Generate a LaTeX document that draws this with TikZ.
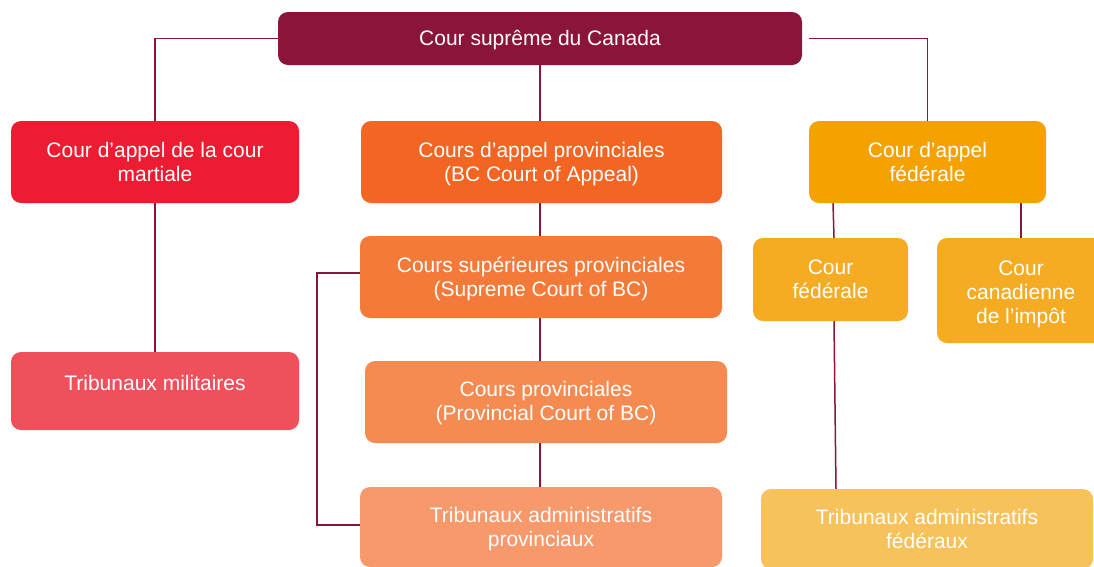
\documentclass[tikz,border=0pt]{standalone}
\usepackage{fontspec}
\setmainfont{Liberation Sans}
\usetikzlibrary{backgrounds}
\definecolor{cmaroon}{HTML}{8A1538}
\definecolor{cred}{HTML}{ED1C33}
\definecolor{cpink}{HTML}{F0505C}
\definecolor{corA}{HTML}{F26522}
\definecolor{corB}{HTML}{F47A3A}
\definecolor{corC}{HTML}{F68B52}
\definecolor{corD}{HTML}{F7996A}
\definecolor{cyA}{HTML}{F5A200}
\definecolor{cyB}{HTML}{F5AC22}
\definecolor{cyC}{HTML}{F8C25A}
\newcommand{\ctxt}[2][-3pt]{\raisebox{#1}[\height][\depth]{\begin{tabular}{@{}c@{}}#2\end{tabular}}}
\tikzset{
  court/.style={rectangle, rounded corners=10pt, inner sep=0pt,
    text=white, font=\fontsize{21}{24}\selectfont, draw=none},
  link/.style={draw=cmaroon, line width=1.5pt},
}
\begin{document}
\begin{tikzpicture}[x=1pt,y=-1pt]
\useasboundingbox (0,0) rectangle (1094,566);
\clip (0,0) rectangle (1094,566);
\node[court, fill=cmaroon, minimum width=524pt, minimum height=53pt] (sup) at (540,38.5) {\ctxt[-2pt]{Cour suprême du Canada}};
\node[court, fill=cred, minimum width=288pt, minimum height=82pt] (martial) at (155,162) {\ctxt{Cour d’appel de la cour\\martiale}};
\node[court, fill=corA, minimum width=361pt, minimum height=82pt] (cap) at (541.5,162) {\ctxt{Cours d’appel provinciales\\(BC Court of Appeal)}};
\node[court, fill=cyA, minimum width=237pt, minimum height=82pt] (caf) at (927.5,162) {\ctxt{Cour d’appel\\fédérale}};
\node[court, fill=corB, minimum width=362pt, minimum height=82pt] (csp) at (541,277) {\ctxt{Cours supérieures provinciales\\(Supreme Court of BC)}};
\node[court, fill=corC, minimum width=362pt, minimum height=82pt] (cp) at (546,402) {\ctxt[-2pt]{Cours provinciales\\(Provincial Court of BC)}};
\node[court, fill=corD, minimum width=362pt, minimum height=80pt] (tap) at (541,527) {\ctxt{Tribunaux administratifs\\provinciaux}};
\node[court, fill=cpink, minimum width=288pt, minimum height=78pt] (tm) at (155,391) {\ctxt[5pt]{Tribunaux militaires}};
\node[court, fill=cyB, minimum width=155pt, minimum height=83pt] (cf) at (830.5,279.5) {\ctxt[-2.5pt]{Cour\\fédérale}};
\node[court, fill=cyB, minimum width=168pt, minimum height=105pt] (cci) at (1021,290.5) {\ctxt[-4.5pt]{Cour\\canadienne\\de l’impôt}};
\node[court, fill=cyC, minimum width=332pt, minimum height=80pt] (taf) at (927,529) {\ctxt{Tribunaux administratifs\\fédéraux}};
\begin{scope}[on background layer]
\draw[link] (sup.west) -| (martial.north);
\draw[link] ([xshift=7pt]sup.east) -| (caf.north);
\draw[link] (sup.south) -- (sup.south |- cap.north);
\draw[link] (cap.south -| sup.south) -- (csp.north -| sup.south);
\draw[link] (csp.south -| sup.south) -- (cp.north -| sup.south);
\draw[link] (cp.south -| sup.south) -- (tap.north -| sup.south);
\draw[link] ([yshift=4pt]csp.west) -- ++(-43,0) |- ([yshift=2pt]tap.west);
\draw[link] (martial.south) -- (tm.north);
\draw[link] ([xshift=2.5pt]cf.north |- caf.south) -- ([xshift=3.5pt]cf.north);
\draw[link] (cci.north |- caf.south) -- (cci.north);
\draw[link] ([xshift=3.5pt]cf.south) -- ([xshift=5.5pt]cf.south |- taf.north);
\end{scope}
\end{tikzpicture}
\end{document}
